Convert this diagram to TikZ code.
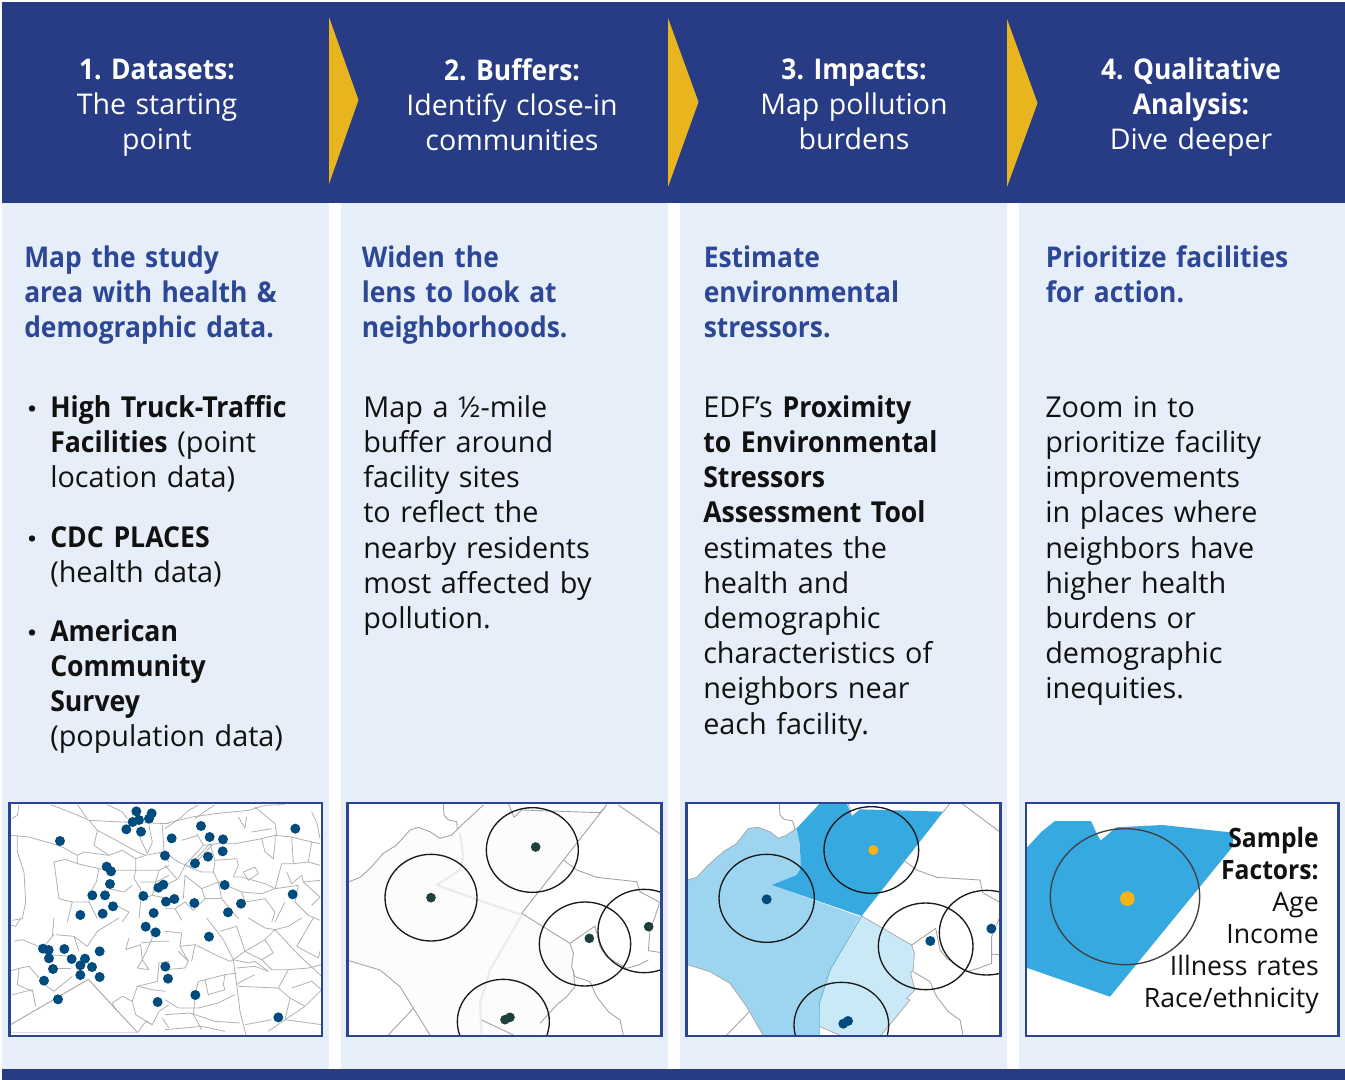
\documentclass[tikz,border=0pt]{standalone}
\usepackage{fontspec}
\setmainfont{Open Sans}[BoldFeatures={FakeStretch=0.925}]
\definecolor{navy}{HTML}{273C85}
\definecolor{framec}{HTML}{2B4594}
\definecolor{panel}{HTML}{E6EFF9}
\definecolor{gold}{HTML}{E8B51E}
\definecolor{headblue}{HTML}{2D4695}
\definecolor{inktxt}{HTML}{111111}
\definecolor{dotnavy}{HTML}{004B7E}
\definecolor{dotgreen}{HTML}{1F3F3C}
\definecolor{orangedot}{HTML}{F7B316}
\definecolor{zdark}{HTML}{36A9E0}
\definecolor{zmid}{HTML}{9DD5F0}
\definecolor{zlight}{HTML}{C9E9F6}
\definecolor{netgray}{HTML}{A3A3A3}
\definecolor{wash}{HTML}{FCFCFC}
\tikzset{
  headtxt/.style={text=white,inner sep=0pt,anchor=base,text width=300pt,align=center,font={\fontsize{21.4}{26.4}\selectfont}},
  leadtxt/.style={text=headblue,inner sep=0pt,anchor=base west,text width=240pt,align=left,font={\fontsize{21.4}{26.4}\selectfont\bfseries}},
  bodytxt/.style={text=inktxt,inner sep=0pt,anchor=base west,text width=240pt,align=left,font={\fontsize{21.6}{26.4}\selectfont}},
  sidetxt/.style={text=inktxt,inner sep=0pt,anchor=base east,text width=200pt,align=right,font={\fontsize{20}{24}\selectfont}},
  panelbox/.style={fill=panel,draw=none},
  navybox/.style={fill=navy,draw=none},
  pointer/.style={fill=gold,draw=none},
  mapframe/.style={draw=framec,line width=1.9pt,fill=none},
  net/.style={draw=netgray,line width=.65pt,line join=round},
  thin net/.style={draw=netgray!85,line width=.6pt,line join=round},
  faint/.style={draw=black!8,line width=1.6pt,line join=round},
  ring/.style={draw=black!90,line width=1pt},
  mapcoords/.style={x=.25pt,y=-.25pt},
}
\newcommand{\mapdot}[4]{\fill[#1] (#2,#3) circle[radius=#4];}
\newcommand{\netpaths}[2]{\begin{scope}[mapcoords,shift={#1}]\foreach \seg in {#2}{\edef\doseg{\noexpand\draw[thin net] plot coordinates {\seg};}\doseg}\end{scope}}
\begin{document}
\frenchspacing
\begin{tikzpicture}[x=.75pt,y=-.75pt]
\useasboundingbox (0,0) rectangle (1345,1080);
% panels
\fill[panelbox] (2,203) rectangle (329,1069);
\fill[panelbox] (341,203) rectangle (668,1069);
\fill[panelbox] (680,203) rectangle (1007,1069);
\fill[panelbox] (1019,203) rectangle (1345,1069);
\fill[navybox] (2,2) rectangle (1345,203);
\fill[navybox] (2,1069) rectangle (1345,1080);
% pointers
\fill[pointer] (329,17) -- (358.5,100) -- (329,184) -- cycle;
\fill[pointer] (668,18) -- (698.5,102) -- (668,187) -- cycle;
\fill[pointer] (1007,19) -- (1037.5,103) -- (1007,187) -- cycle;
% headers
\node[headtxt] (h1) at (157,79.5) {\textbf{1. Datasets:}\\The starting\\point};
\node[headtxt] (h2) at (512,80.5) {\textbf{2. Buffers:}\\Identify close-in\\communities};
\node[headtxt] (h3) at (854,79.5) {\textbf{3. Impacts:}\\Map pollution\\burdens};
\node[headtxt] (h4) at (1191,79.5) {\textbf{4. Qualitative}\\\textbf{Analysis:}\\Dive deeper};
% leads
\node[leadtxt] (l1) at (24,267.5) {Map the study\\area with health \&\\demographic data.};
\node[leadtxt] (l2) at (361.5,267.5) {Widen the\\lens to look at\\neighborhoods.};
\node[leadtxt] (l3) at (703.5,267.5) {Estimate\\environmental\\stressors.};
\node[leadtxt] (l4) at (1045.5,267.5) {Prioritize facilities\\for action.};
% column 1 list
\fill[inktxt] (32,408.5) circle[radius=3.2];
\node[bodytxt] (t1) at (50,417.3) {\textbf{High Truck-Traffic}\\\textbf{Facilities} (point\\location data)};
\fill[inktxt] (32,538.5) circle[radius=3.2];
\node[bodytxt] (t2) at (50,547.3) {\textbf{CDC PLACES}\\(health data)};
\fill[inktxt] (32,632.5) circle[radius=3.2];
\node[bodytxt] (t3) at (50,641.3) {\textbf{American}\\\textbf{Community}\\\textbf{Survey}\\(population data)};
% bodies
\node[bodytxt] (p2) at (363,417.3) {Map a ½-mile\\buffer around\\facility sites\\to reflect the\\nearby residents\\most affected by\\pollution.};
\node[bodytxt] (p3) at (703,417.3) {EDF’s \textbf{Proximity}\\\textbf{to Environmental}\\\textbf{Stressors}\\\textbf{Assessment Tool}\\estimates the\\health and\\demographic\\characteristics of\\neighbors near\\each facility.};
\node[bodytxt] (p4) at (1045,417.3) {Zoom in to\\prioritize facility\\improvements\\in places where\\neighbors have\\higher health\\burdens or\\demographic\\inequities.};
% MAP 1
\begin{scope}
\clip (9.5,803) rectangle (322,1036);
\fill[white] (9.5,803) rectangle (322,1036);
\netpaths{(27,2406)}{
{(30,8)(25,40)(8,50)},{(5,100)(60,105)(130,125)(160,135)(205,160)},
{(125,8)(170,25)(230,50)(240,55)(340,60)(480,65)},{(205,8)(235,50)},{(295,8)(340,30)(355,50)},
{(240,55)(265,85)(255,130)(300,160)(340,145)(380,170)(410,160)(460,150)},
{(265,85)(340,125)(385,150)(410,160)},{(205,160)(225,150)(300,160)},
{(205,160)(205,185)(270,200)(300,205)(380,205)(450,205)},
{(205,185)(170,172)(135,180)(150,290)(190,300)(175,360)},
{(270,200)(262,240)(245,270)(240,300)(190,300)},
{(25,100)(25,150)(45,210)(50,300)(40,350)(10,355)},
{(380,170)(380,205)(375,230)(395,260)(395,300)},
{(420,70)(430,120)(415,155)},{(460,70)(465,150)},{(385,90)(415,155)},
{(300,260)(345,270)(370,250)},{(240,300)(265,350)},{(300,300)(360,330)(340,360)},
{(395,300)(390,350)},{(395,240)(440,240)(480,220)},{(450,205)(440,240)(430,280)(400,290)},
{(450,205)(480,190)},{(430,280)(480,290)},{(450,150)(480,180)}}
\netpaths{(495,2406)}{
{(0,80)(50,45)(70,25)(100,10)},{(0,65)(80,45)(150,35)(250,25)(300,10)(360,8)},
{(150,8)(110,35)(90,50)},{(220,45)(240,78)(245,45)},
{(95,95)(115,130)(160,125)(210,125)(290,110)(330,100)(380,105)(440,120)(465,125)},
{(0,150)(40,180)(75,195)},{(50,115)(100,100)},{(70,195)(135,125)},{(75,200)(140,130)},
{(115,130)(60,190)(40,230)(0,250)},{(135,125)(150,175)(215,170)(220,190)(205,225)},
{(150,175)(145,210)(160,240)(110,260)(60,220)},{(60,190)(110,210)(145,210)},
{(290,110)(300,150)(325,170)(330,125)(330,100)},{(270,15)(330,65)(335,100)},{(260,90)(320,80)},
{(380,105)(385,185)(350,185)(330,260)(300,245)(230,225)(205,225)},
{(440,30)(455,60)(465,110)},{(385,185)(430,180)(465,190)},{(440,120)(430,180)},
{(235,210)(270,195)(280,215)(250,235)(235,210)},{(365,210)(380,245)(410,220)(415,240)(465,235)},
{(330,260)(400,250)},{(160,240)(230,270)(290,275)(330,260)},
{(230,270)(240,300)(300,290)(330,330)(320,360)},{(160,240)(170,290)(220,350)},
{(110,260)(120,290)(85,325)(60,300)(30,320)},{(60,220)(55,290)},{(0,320)(30,320)(50,355)},
{(120,290)(170,290)},{(400,250)(390,300)(430,340)(465,355)},{(360,300)(330,360)},
{(0,190)(35,230)},{(415,240)(465,285)(440,310)}}
\netpaths{(27,2754)}{
{(0,20)(20,25)(35,0)},{(15,70)(40,65)(100,90)},{(130,55)(135,0)},
{(140,50)(195,55)(235,85)(265,40)(330,0)},{(135,50)(100,90)},{(120,110)(190,115)},{(195,55)(210,100)},
{(0,160)(35,150)(60,145)(90,180)},{(30,150)(25,200)(70,220)},{(10,230)(70,215)(80,265)},
{(100,195)(135,220)(190,175)},{(130,150)(185,150)},
{(360,60)(350,95)(395,80)(400,125)(385,150)(420,155)(400,125)},{(395,75)(440,70)(480,70)},
{(420,20)(430,60)(400,125)},{(480,130)(450,135)(445,190)(385,205)(370,250)(340,235)(310,255)(320,275)},
{(370,250)(380,290)(430,320)(450,280)(480,260)},{(385,205)(430,215)(470,220)},
{(385,345)(410,310)(430,320)},{(460,300)(480,330)}}
\netpaths{(495,2754)}{
{(0,40)(50,45)(45,85)(90,80)(80,130)},{(125,0)(175,65)(205,125)(195,130)(150,110)(110,90)(90,80)},
{(165,40)(215,25)(240,100)(205,125)},{(205,125)(215,200)(225,280)(245,360)},
{(240,100)(300,65)(325,105)(290,125)(240,100)},{(250,0)(300,30)(330,35)(300,65)},
{(330,35)(400,110)(470,175)},{(410,0)(370,25)(330,35)},{(445,0)(395,85)(460,120)(465,100)},
{(290,125)(320,155)(370,155)(430,150)(470,140)},{(205,125)(250,135)(270,130)(310,160)},
{(45,85)(70,130)(60,150)(0,155)},{(70,130)(40,100)},{(215,150)(270,145)(310,160)},
{(370,155)(340,210)(220,205)},{(270,170)(230,190)(215,200)},
{(180,170)(175,200)(180,215)(130,230)(120,185)(180,170)},{(180,170)(215,165)},
{(125,185)(100,190)(90,230)},{(0,245)(40,270)(100,270)(160,255)(210,230)},{(90,240)(85,290)(110,335)},
{(0,290)(75,285)(150,310)(225,315)},{(0,335)(110,325)(180,340)},
{(340,210)(375,240)(420,265)(470,215)},{(375,240)(360,305)(310,340)},{(420,265)(360,305)},
{(360,305)(470,320)},{(470,215)(440,190)(380,210)},{(240,320)(320,305)}}
\begin{scope}[mapcoords,shift={(0,2370)}]
\draw[net] (30,705) -- (265,568) -- (410,725);
\draw[net,draw=black!15] (30,727) -- (410,727);
\foreach \px/\py in {409/64,455/70,447/86,417/90,398/96,379/118,423/125,603/108,629/141,669/148,515/145,180/153,886/116,668/184,624/200,585/220,495/197,320/230,333/244,330/282,277/316,315/316,339/349,308/371,241/375,430/318,475/293,490/284,498/335,523/327,583/339,674/285,723/341,684/367,878/313,461/369,437/410,467/427,627/440,129/476,146/480,193/477,147/505,215/507,255/506,241/526,276/531,299/484,159/537,132/572,241/555,299/561,174/628,496/530,504/566,586/615,473/636,835/682}
  {\mapdot{dotnavy}{\px}{\py}{15}}
\end{scope}
\end{scope}
\draw[mapframe] (9.5,803) rectangle (322,1036);
% MAP 2
\begin{scope}
\clip (347.5,803) rectangle (661.5,1036);
\fill[white] (347.5,803) rectangle (661.5,1036);
\begin{scope}[mapcoords,shift={(1020,2370)}]
\fill[wash] (20,278) -- (60,262) -- (90,235) -- (130,190) -- (170,165) -- (210,120) -- (235,112) -- (270,125) -- (300,145) -- (335,135) -- (360,110) -- (430,45) -- (505,40) -- (522,82) -- (545,60) -- (780,68) -- (545,370) -- (690,460) -- (700,490) -- (695,530) -- (705,590) -- (680,620) -- (650,645) -- (600,740) -- (270,740) -- (180,590) -- (120,540) -- (20,510) -- cycle;
\draw[faint] (360,130) -- (370,200) -- (360,240) -- (290,285) -- (430,335) -- (545,375) -- (450,540) -- (420,640) -- (425,735);
\draw[net] (20,278) -- (60,262) -- (90,235) -- (130,190) -- (170,165) -- (210,120) -- (235,112) -- (270,125) -- (300,145) -- (335,135) -- (360,110) -- (430,45);
\draw[net] (310,40) -- (312,75) -- (325,90) -- (350,95) -- (352,120);
\draw[net] (505,40) -- (522,82) -- (545,60) -- (780,68) -- (800,45) -- (545,370);
\draw[net] (670,210) -- (710,240) -- (770,262) -- (890,275) -- (900,305) -- (965,340);
\draw[net] (958,340) -- (945,380) -- (930,420) -- (925,482) -- (965,488);
\draw[net] (925,510) -- (895,525) -- (860,535) -- (800,500) -- (780,470) -- (765,408) -- (690,460);
\draw[net] (835,45) -- (965,135);
\draw[net] (545,370) -- (690,460) -- (700,490) -- (695,530) -- (705,560) -- (750,575) -- (770,620) -- (805,665) -- (840,690) -- (850,735);
\draw[net] (700,540) -- (705,590) -- (680,620) -- (650,645) -- (600,700);
\draw[net] (20,510) -- (120,540) -- (180,590) -- (270,735);
\draw[net] (220,655) -- (145,735);
\draw[net] (425,690) -- (520,735);
\draw[ring] (273,323) ellipse[x radius=138,y radius=130];
\draw[ring] (577,180) ellipse[x radius=138,y radius=127];
\draw[ring] (735,462) ellipse[x radius=137,y radius=126];
\draw[ring] (912,423) ellipse[x radius=138,y radius=125];
\draw[ring] (490,695) ellipse[x radius=138,y radius=127];
\foreach \px/\py in {273/323,587/171,748/445,926/410,495/689,510/682}{\mapdot{dotgreen}{\px}{\py}{14.5}}
\end{scope}
\end{scope}
\draw[mapframe] (347.5,803) rectangle (661.5,1036);
% MAP 3
\begin{scope}
\clip (686.5,803) rectangle (1000.5,1036);
\fill[white] (686.5,803) rectangle (1000.5,1036);
\begin{scope}[mapcoords,shift={(2040,2370)}]
\filldraw[fill=zlight,draw=netgray,line width=.5pt] (545,378) -- (695,465) -- (703,490) -- (700,540) -- (692,550) -- (705,600) -- (680,625) -- (690,630) -- (600,740) -- (490,740) -- (415,708) -- (418,640) -- (450,540) -- cycle;
\filldraw[fill=zmid,draw=none] (15,272) -- (50,262) -- (85,225) -- (130,185) -- (170,160) -- (205,115) -- (235,112) -- (270,125) -- (295,145) -- (320,135) -- (350,115) -- (360,165) -- (362,235) -- (350,255) -- (275,285) -- (540,380) -- (450,540) -- (418,640) -- (418,740) -- (252,740) -- (200,650) -- (150,580) -- (90,545) -- (15,522) -- cycle;
\draw[net,line width=.5pt] (15,272) -- (50,262) -- (85,225) -- (130,185) -- (170,160) -- (205,115) -- (235,112) -- (270,125) -- (295,145) -- (320,135) -- (350,115);
\draw[net,line width=.5pt] (252,740) -- (200,650) -- (150,580) -- (90,545) -- (15,522);
\draw[draw=zdark!80,line width=.5pt] (545,378) -- (450,540) -- (418,640) -- (418,740);
\fill[zdark] (420,40) -- (500,40) -- (515,78) -- (540,58) -- (790,65) -- (545,378) -- (275,285) -- (350,255) -- (362,235) -- (360,165) -- (350,115) -- cycle;
\draw[net] (298,40) -- (300,75) -- (312,88) -- (338,93) -- (345,118);
\draw[net] (505,40) -- (515,78);
\draw[net] (790,65) -- (810,40);
\draw[net] (670,210) -- (710,240) -- (770,262) -- (900,270) -- (908,308) -- (965,340);
\draw[net] (958,385) -- (935,440) -- (935,520) -- (895,535) -- (860,545) -- (800,505) -- (780,480) -- (767,415) -- (695,465);
\draw[net] (935,492) -- (965,495);
\draw[net] (845,40) -- (965,130);
\draw[net] (700,545) -- (750,575) -- (770,620) -- (805,665) -- (840,690) -- (850,740);
\draw[net] (208,665) -- (140,735);
\draw[ring] (260,325) ellipse[x radius=143,y radius=132];
\draw[ring] (574,180) ellipse[x radius=142,y radius=130];
\draw[ring] (737,469) ellipse[x radius=142,y radius=130];
\draw[ring] (920,428) ellipse[x radius=142,y radius=127];
\draw[ring] (484,705) ellipse[x radius=142,y radius=128];
\foreach \px/\py in {260/328,751/453,934/416,490/701,504/693}{\mapdot{dotnavy}{\px}{\py}{15}}
\mapdot{orangedot}{580}{180}{15}
\end{scope}
\end{scope}
\draw[mapframe] (686.5,803) rectangle (1000.5,1036);
% MAP 4
\fill[white] (1026,803) rectangle (1338.5,1036);
\begin{scope}[mapcoords,shift={(3030,2370)}]
\fill[zdark] (49,174) -- (55,168) -- (95,125) -- (135,93) -- (243,93) -- (260,130) -- (272,152) -- (318,112) -- (457,105) -- (670,128) -- (668,170) -- (300,620) -- (55,535) -- (49,533) -- cycle;
\draw[draw=black!75,line width=1pt] (345,320) ellipse[x radius=224,y radius=204];
\fill[orangedot] (352,326) circle[radius=22];
\end{scope}
\draw[mapframe] (1026,803) rectangle (1338.5,1036);
\node[sidetxt] (sf) at (1319,847) {\textbf{Sample}\\\textbf{Factors:}\\Age\\Income\\Illness rates\\Race/ethnicity};
\end{tikzpicture}
\end{document}
